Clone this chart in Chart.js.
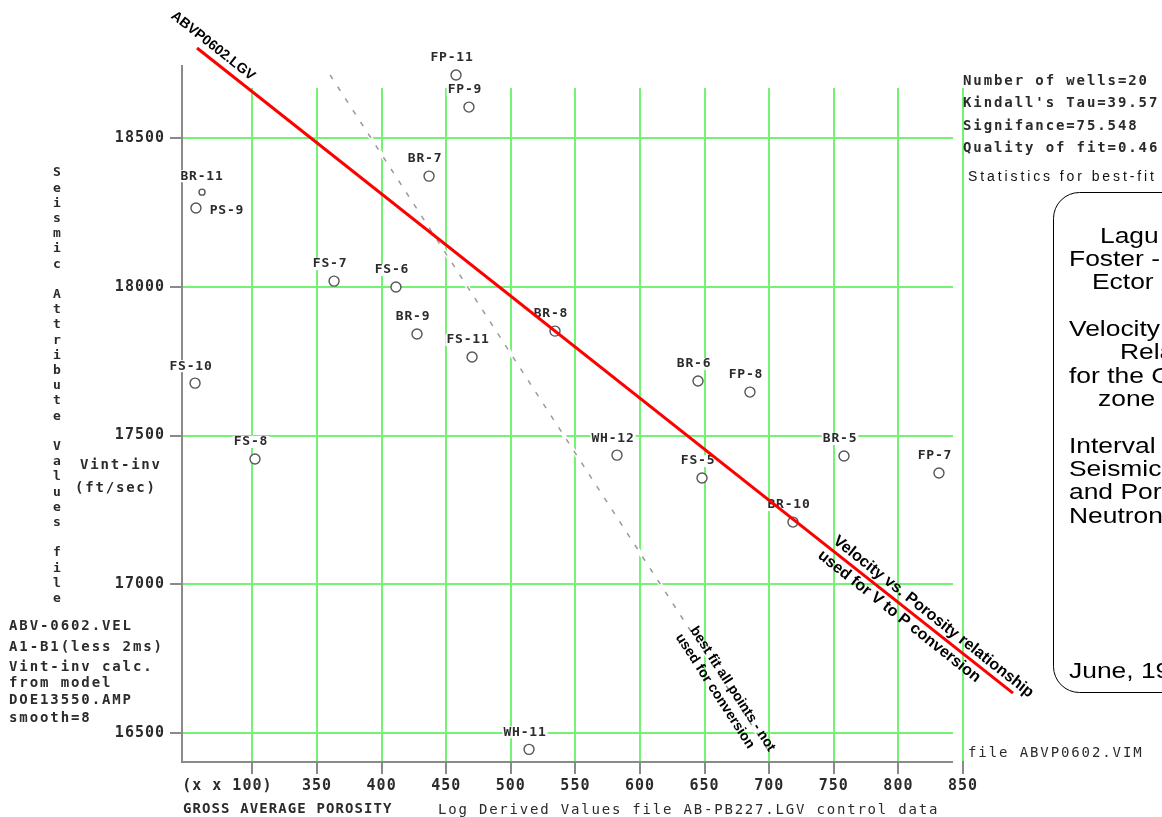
<!DOCTYPE html>
<html>
<head>
<meta charset="utf-8">
<script src="https://cdn.jsdelivr.net/npm/chart.js@4.4.1/dist/chart.umd.min.js"></script>
<style>
    html, body { margin: 0; padding: 0; background: #fff; }
    #wrap { width: 1162px; height: 817px; }
</style>
</head>
<body>
<div id="wrap"><canvas id="grafico" width="1162" height="817"></canvas></div>
<script>
// wells: gross average porosity (x 100) vs seismic interval velocity
const wellNames = ['FP-11', 'FP-9', 'BR-7', 'BR-11', 'PS-9', 'FS-7', 'FS-6', 'BR-9', 'FS-11', 'BR-8',
    'FS-10', 'FS-8', 'BR-6', 'FP-8', 'WH-12', 'FS-5', 'BR-5', 'FP-7', 'BR-10', 'WH-11'];
const porosity = [457.6, 467.6, 436.7, 261, 256.3, 363.2, 411.1, 427.4, 470, 534.2,
    255.6, 302, 644.9, 685.1, 582.2, 648, 757.9, 831.4, 718.4, 514.1];
const velocity = [18712, 18604, 18372, 18318, 18265, 18019, 17999, 17841, 17764, 17851,
    17676, 17421, 17683, 17646, 17434, 17357, 17431, 17374, 17209, 16445];

// red relationship line and the dashed best fit line (end points)
const relationX = [257.1, 888.7];
const relationY = [18802.6, 16633.8];
const bestFitX = [360.1, 699.1];
const bestFitY = [18711.8, 16442];

const xTickValues = [300, 350, 400, 450, 500, 550, 600, 650, 700, 750, 800, 850];
const xTickLabels = ['(x x 100)', '350', '400', '450', '500', '550', '600', '650', '700', '750', '800', '850'];
const yTickValues = [16500, 17000, 17500, 18000, 18500];
const yTickLabels = ['16500', '17000', '17500', '18000', '18500'];

const statsLines = ['Number of wells=20', "Kindall's Tau=39.57", 'Signifance=75.548', 'Quality of fit=0.46'];
const statsCaption = 'Statistics for best-fit';
const yTitle = 'Seismic Attribute Values file';
const yUnits = ['Vint-inv', '(ft/sec)'];
const sourceNotes = ['ABV-0602.VEL', 'A1-B1(less 2ms)', 'Vint-inv calc.', 'from model', 'DOE13550.AMP', 'smooth=8'];
const xTitle = 'GROSS AVERAGE POROSITY';
const xSource = 'Log Derived Values file AB-PB227.LGV control data';
const rightFile = 'file ABVP0602.VIM';
const lineTitle = 'ABVP0602.LGV';
const relationNote = ['Velocity vs. Porosity relationship', 'used for V to P conversion'];
const bestFitNote = ['best fit all points - not', 'used for conversion'];
const boxLines = ['Lagu', 'Foster -', 'Ector', 'Velocity', 'Rela', 'for the C', 'zone',
    'Interval', 'Seismic', 'and Por', 'Neutron', 'June, 19'];

document.addEventListener('DOMContentLoaded', function() {
    const MONO = '"DejaVu Sans Mono", monospace';
    const SANS = '"Liberation Sans", Arial, sans-serif';
    const INK = '#2b2b2b';
    const GREEN = '#74f274';
    const AXIS = '#8a8a8a';

    // label offsets from the marker, special cases only
    const offsetsRotulo = { 'PS-9': [31, 3], 'BR-11': [0, -16] };
    const boxX = [1100, 1069, 1092, 1069, 1120, 1069, 1098, 1069, 1069, 1069, 1069, 1069];
    const boxY = [237, 260, 283, 330, 353, 377, 400, 447, 470, 493, 517, 672];
    const notesY = [626, 647, 667, 683, 700, 718];

    function texto(ctx, str, x, y, font, spacing, align, color) {
        ctx.save();
        ctx.font = font;
        ctx.letterSpacing = spacing + 'px';
        ctx.textAlign = align || 'left';
        ctx.textBaseline = 'middle';
        ctx.fillStyle = color || INK;
        ctx.fillText(str, x, y);
        ctx.restore();
    }

    function textoGirado(ctx, linhas, x, y, angulo, font, passo, recuo, align) {
        ctx.save();
        ctx.translate(x, y);
        ctx.rotate(angulo);
        ctx.font = font;
        ctx.letterSpacing = '0px';
        ctx.textAlign = align;
        ctx.textBaseline = 'middle';
        ctx.fillStyle = '#000';
        linhas.forEach((linha, i) => ctx.fillText(linha, i * recuo, i * passo));
        ctx.restore();
    }

    function anguloDe(chart, xs, ys) {
        const sx = chart.scales.x, sy = chart.scales.y;
        const dx = sx.getPixelForValue(xs[1]) - sx.getPixelForValue(xs[0]);
        const dy = sy.getPixelForValue(ys[1]) - sy.getPixelForValue(ys[0]);
        return Math.atan2(dy, dx);
    }

    const notasPlugin = {
        id: 'notas',
        beforeDraw(chart) {
            const ctx = chart.ctx;
            ctx.save();
            ctx.fillStyle = '#fff';
            ctx.fillRect(0, 0, chart.width, chart.height);
            ctx.restore();
            ctx.letterSpacing = '1px';
        },
        beforeDatasetsDraw(chart) {
            const ctx = chart.ctx;
            const area = chart.chartArea;

            // grid starts a little below the top of the y axis,
            // and the horizontal lines stop short of the 850 line
            ctx.save();
            ctx.fillStyle = '#fff';
            ctx.fillRect(area.left + 2, area.top, area.right - area.left + 2, 22);
            ctx.fillRect(area.right - 10, area.top, 9, area.bottom - area.top + 2);
            ctx.restore();

            // well names, on a white patch
            const pts = chart.getDatasetMeta(0).data;
            ctx.save();
            ctx.font = 'bold 13px ' + MONO;
            ctx.letterSpacing = '0.8px';
            ctx.textAlign = 'center';
            ctx.textBaseline = 'middle';
            wellNames.forEach((nome, i) => {
                const off = offsetsRotulo[nome] || [-4, -17];
                const x = pts[i].x + off[0];
                const y = pts[i].y + off[1];
                const w = ctx.measureText(nome).width;
                ctx.fillStyle = '#fff';
                ctx.fillRect(x - w / 2 - 1, y - 6, w + 2, 12);
                ctx.fillStyle = INK;
                ctx.fillText(nome, x, y);
            });
            ctx.restore();
        },
        afterDatasetsDraw(chart) {
            const ctx = chart.ctx;
            const angRel = anguloDe(chart, relationX, relationY);
            const angFit = anguloDe(chart, bestFitX, bestFitY);

            textoGirado(ctx, [lineTitle], 213, 46, angRel, 'bold 14px ' + SANS, 0, 0, 'center');
            textoGirado(ctx, relationNote, 835, 539, angRel, 'bold 16px ' + SANS, 21, -3, 'left');
            textoGirado(ctx, bestFitNote, 693, 628, angFit, 'bold 14px ' + SANS, 16, -2, 'left');

            // vertical y title, one letter under the other
            yTitle.split('').forEach((ch, i) => {
                texto(ctx, ch, 57, 173 + i * 15.2, 'bold 13px ' + MONO, 0, 'center');
            });
            texto(ctx, yUnits[0], 80, 465, 'bold 14px ' + MONO, 1.8);
            texto(ctx, yUnits[1], 75, 488, 'bold 14px ' + MONO, 1.8);

            sourceNotes.forEach((linha, i) => texto(ctx, linha, 9, notesY[i], 'bold 14px ' + MONO, 1.9));

            texto(ctx, xTitle, 183, 809, 'bold 14px ' + MONO, 1.1);
            texto(ctx, xSource, 438, 810, '14px ' + MONO, 1.8);
            texto(ctx, rightFile, 968, 753, '14px ' + MONO, 1.9);

            statsLines.forEach((linha, i) => texto(ctx, linha, 963, 81 + i * 22.6, 'bold 14px ' + MONO, 1.9));
            texto(ctx, statsCaption, 968, 177, '14px ' + SANS, 2.9, 'left', '#111');

            // rounded note box, cut by the right edge
            ctx.save();
            ctx.strokeStyle = '#000';
            ctx.lineWidth = 1;
            ctx.beginPath();
            ctx.roundRect(1053.5, 192.5, 300, 500, 26);
            ctx.stroke();
            ctx.font = '22px ' + SANS;
            ctx.letterSpacing = '0px';
            ctx.textBaseline = 'middle';
            ctx.fillStyle = '#000';
            boxLines.forEach((linha, i) => {
                ctx.save();
                ctx.translate(boxX[i], boxY[i]);
                ctx.scale(1.2, 1);
                ctx.fillText(linha, 0, 0);
                ctx.restore();
            });
            ctx.restore();
        }
    };

    const pontos = porosity.map((p, i) => ({ x: p, y: velocity[i] }));
    const relacao = relationX.map((p, i) => ({ x: p, y: relationY[i] }));
    const ajuste = bestFitX.map((p, i) => ({ x: p, y: bestFitY[i] }));

    const eixo = {
        grid: { color: GREEN, lineWidth: 2, tickColor: AXIS, tickLength: 12, tickWidth: 2 },
        border: { display: true, color: AXIS, width: 2 }
    };

    new Chart(document.getElementById('grafico').getContext('2d'), {
        type: 'scatter',
        data: {
            datasets: [
                {
                    data: pontos,
                    pointStyle: 'circle',
                    pointRadius: wellNames.map(n => n === 'BR-11' ? 3 : 5),
                    borderColor: '#555',
                    backgroundColor: '#fff',
                    borderWidth: 1.4,
                    clip: false,
                    order: 4
                },
                {
                    data: ajuste,
                    showLine: true,
                    borderColor: '#fff',
                    borderWidth: 4,
                    pointRadius: 0,
                    clip: false,
                    order: 3
                },
                {
                    data: ajuste,
                    showLine: true,
                    borderColor: '#9a9a9a',
                    borderWidth: 1.5,
                    borderDash: [5, 9],
                    pointRadius: 0,
                    clip: false,
                    order: 2
                },
                {
                    data: relacao,
                    showLine: true,
                    borderColor: '#ff0000',
                    borderWidth: 3,
                    pointRadius: 0,
                    clip: false,
                    order: 1
                }
            ]
        },
        options: {
            responsive: false,
            animation: false,
            devicePixelRatio: 1,
            layout: { padding: { left: 0, top: 66, right: 199, bottom: 0 } },
            plugins: {
                legend: { display: false },
                tooltip: { enabled: false }
            },
            scales: {
                x: {
                    type: 'linear',
                    min: 245.5,
                    max: 850,
                    grid: eixo.grid,
                    border: eixo.border,
                    afterBuildTicks: scale => { scale.ticks = xTickValues.map(v => ({ value: v })); },
                    afterFit: scale => { scale.height = 55; },
                    ticks: {
                        autoSkip: false,
                        maxRotation: 0,
                        padding: 3,
                        color: INK,
                        font: { family: 'DejaVu Sans Mono', size: 15, weight: 'bold' },
                        callback: (v, i) => i === 0 ? xTickLabels[i] + '     ' : xTickLabels[i]
                    }
                },
                y: {
                    type: 'linear',
                    min: 16402.5,
                    max: 18742.1,
                    grid: eixo.grid,
                    border: eixo.border,
                    afterBuildTicks: scale => { scale.ticks = yTickValues.map(v => ({ value: v })); },
                    afterFit: scale => { scale.width = 182; },
                    ticks: {
                        autoSkip: false,
                        padding: 5,
                        color: INK,
                        font: { family: 'DejaVu Sans Mono', size: 15, weight: 'bold' },
                        callback: (v, i) => yTickLabels[i]
                    }
                }
            }
        },
        plugins: [notasPlugin]
    });
});
</script>
</body>
</html>
